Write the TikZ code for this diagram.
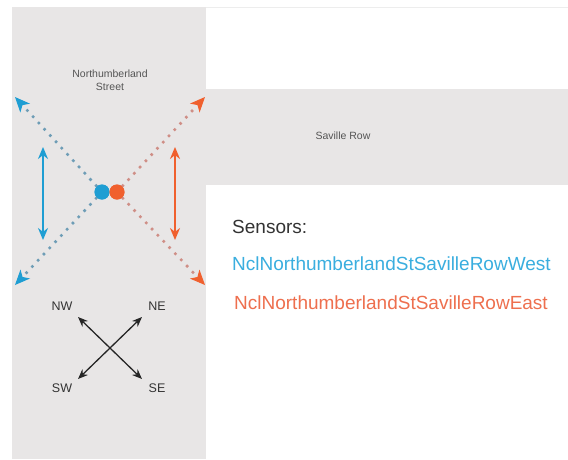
\documentclass[tikz,border=0pt]{standalone}
\usepackage{fontspec}
\setmainfont{Liberation Sans}
\usetikzlibrary{arrows.meta,calc}
\definecolor{strip}{HTML}{E8E6E6}
\definecolor{bluec}{HTML}{1F9ED3}
\definecolor{orangec}{HTML}{F0602E}
\definecolor{bluetext}{HTML}{3AAEDF}
\definecolor{orangetext}{HTML}{EE6F4E}
\definecolor{bluedots}{HTML}{6E9DB6}
\definecolor{orangedots}{HTML}{CF8E86}
\definecolor{streettext}{HTML}{555555}
\tikzset{
  street/.style={font=\fontsize{10.5}{12.5}\selectfont, text=streettext, align=center, inner sep=0pt},
  dotline/.style={line width=3.6pt, dash pattern=on 0pt off 8.5pt, line cap=round, shorten >=12pt},
  bigtip/.style={-{Stealth[length=15pt,width=13pt,inset=4pt]}, line width=1pt},
  vdouble/.style={{Stealth[length=12pt,width=10pt]}-{Stealth[length=12pt,width=10pt]}, line width=1.6pt},
  compass/.style={{Stealth[length=10pt,width=8pt]}-{Stealth[length=10pt,width=8pt]}, line width=1.3pt, black!85},
  dirlabel/.style={font=\fontsize{12.5}{15}\selectfont, text=black!80, inner sep=0pt},
  sensor/.style={anchor=base west, font=\fontsize{19}{22}\selectfont, inner sep=0pt},
  pin/.style={circle, minimum size=15pt, inner sep=0pt}
}
\begin{document}
\begin{tikzpicture}[x=1pt,y=-1pt]
\useasboundingbox (0,0) rectangle (568,459);
\fill[white] (0,0) rectangle (568,459);
\draw[black!7, line width=1pt] (12,7) -- (568,7);
\fill[strip] (12,7) rectangle (206,459);
\fill[strip] (206,89) rectangle (568,185);

\node[street] (ns) at (110,80) {Northumberland\\Street};
\node[street] (sr) at (343,136) {Saville Row};

% sensor pins
\node[pin, fill=bluec] (bd) at (102,192) {};
\node[pin, fill=orangec] (od) at (117,192) {};

\coordinate (nw) at (15,97);
\coordinate (sw) at (15,285);
\coordinate (ne) at (205,97);
\coordinate (se) at (205,285);

\draw[dotline, bluedots] (bd.center) -- (nw);
\draw[dotline, bluedots] (bd.center) -- (sw);
\draw[dotline, orangedots] (od.center) -- (ne);
\draw[dotline, orangedots] (od.center) -- (se);
\node[pin, fill=bluec] at (bd) {};
\node[pin, fill=orangec] at (od) {};

\draw[bigtip, bluec] ($(nw)!10pt!(bd)$) -- (nw);
\draw[bigtip, bluec] ($(sw)!10pt!(bd)$) -- (sw);
\draw[bigtip, orangec] ($(ne)!10pt!(od)$) -- (ne);
\draw[bigtip, orangec] ($(se)!10pt!(od)$) -- (se);

% vertical double arrows
\coordinate (bvt) at (43,147);
\coordinate (bvb) at (43,240);
\coordinate (ovt) at (175,147);
\coordinate (ovb) at (175,240);
\draw[vdouble, bluec] (bvt) -- (bvb);
\draw[vdouble, orangec] (ovt) -- (ovb);

% compass
\coordinate (cnw) at (78,317);
\coordinate (cse) at (142,379);
\coordinate (cne) at (142,317);
\coordinate (csw) at (78,379);
\draw[compass] (cnw) -- (cse);
\draw[compass] (cne) -- (csw);
\node[dirlabel] (lnw) at (62,306) {NW};
\node[dirlabel] (lne) at (157,306) {NE};
\node[dirlabel] (lsw) at (62,388) {SW};
\node[dirlabel] (lse) at (157,388) {SE};

% sensors legend
\node[sensor, text=black!80] (sens) at (232,233) {Sensors:};
\node[sensor, text=bluetext] (west) at (232,270) {NclNorthumberlandStSavilleRowWest};
\node[sensor, text=orangetext] (east) at (234,309) {NclNorthumberlandStSavilleRowEast};
\end{tikzpicture}
\end{document}
